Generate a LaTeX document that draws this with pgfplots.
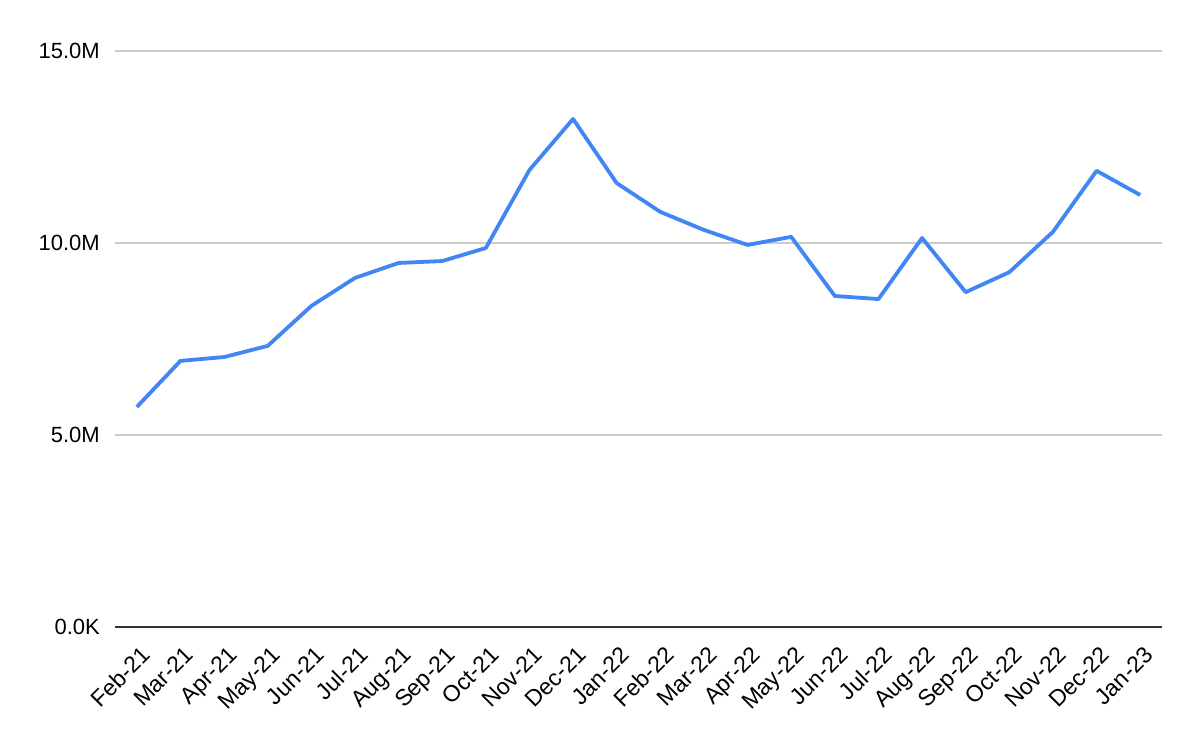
\documentclass[border=0pt]{standalone}
\usepackage{fontspec}
\setmainfont{Liberation Sans}
\usepackage{pgfplots}
\pgfplotsset{compat=1.18}
\definecolor{gblue}{HTML}{4285F4}
\definecolor{gridgray}{HTML}{CCCCCC}
\definecolor{axisdark}{HTML}{333333}

\pgfplotstableread{
idx value
0  5.73
1  6.93
2  7.03
3  7.32
4  8.36
5  9.09
6  9.48
7  9.53
8  9.87
9  11.90
10 13.23
11 11.56
12 10.81
13 10.34
14 9.95
15 10.16
16 8.62
17 8.54
18 10.13
19 8.72
20 9.24
21 10.29
22 11.88
23 11.25
}\datatable

\begin{document}
\begin{tikzpicture}[font=\fontsize{22}{26}\selectfont]
\path[use as bounding box] (0,0) rectangle (1200pt,742pt);
\begin{axis}[
    at={(115pt,115pt)}, anchor=south west,
    scale only axis,
    width=1047pt, height=576pt,
    xmin=-0.5, xmax=23.5,
    ymin=0, ymax=15,
    ytick={0,5,10,15},
    yticklabels={0.0K,5.0M,10.0M,15.0M},
    xtick={0,...,23},
    xticklabels={Feb-21,Mar-21,Apr-21,May-21,Jun-21,Jul-21,Aug-21,Sep-21,Oct-21,Nov-21,Dec-21,Jan-22,Feb-22,Mar-22,Apr-22,May-22,Jun-22,Jul-22,Aug-22,Sep-22,Oct-22,Nov-22,Dec-22,Jan-23},
    xticklabel style={font=\fontsize{23}{27}\selectfont, xshift=3pt, yshift=-15pt, rotate=45, anchor=north east, inner sep=2pt},
    yticklabel style={inner sep=0pt, xshift=-15pt},
    tick style={draw=none},
    ymajorgrids,
    grid style={draw=gridgray, line width=1.3pt},
    axis x line*=bottom,
    axis y line*=left,
    y axis line style={draw=none},
    x axis line style={draw=axisdark, line width=2.2pt, -},
    clip=false,
]
\addplot[gblue, line width=3.8pt, line join=round, mark=none] table[x=idx, y=value] {\datatable};
\end{axis}
\end{tikzpicture}
\end{document}
